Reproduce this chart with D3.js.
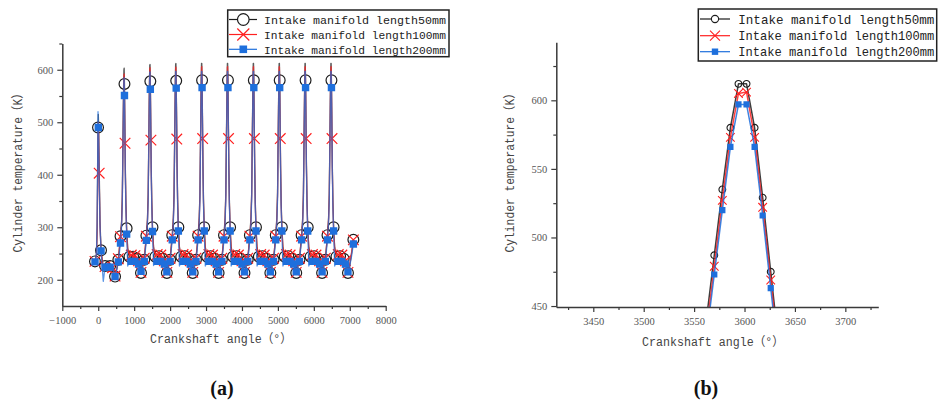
<!DOCTYPE html>
<html><head><meta charset="utf-8">
<script src="https://cdn.jsdelivr.net/npm/d3@7"></script>
<style>body{margin:0;background:#fff}</style>
</head><body><svg id="c" width="941" height="402" xmlns="http://www.w3.org/2000/svg"></svg>
<script>
// ---------------- DATA ----------------
const seriesNames = ["Intake manifold length50mm", "Intake manifold length100mm", "Intake manifold length200mm"];

// crank angle (deg) of each simulation output point
const angles = [
  -90, -50, -30, -14, -6, 2, 10, 18, 26, 34, 50, 78, 140, 190, 260, 330, 400, 468, 520,
  560, 620, 650, 670, 682, 690, 698, 706, 714, 722, 730, 738, 746, 754, 770, 790, 820, 870, 920, 970, 1020, 1070, 1120, 1190, 1240,
  1280, 1340, 1370, 1390, 1402, 1410, 1418, 1426, 1434, 1442, 1450, 1458, 1466, 1474, 1490, 1510, 1540, 1590, 1640, 1690, 1740, 1790, 1840, 1910, 1960,
  2000, 2060, 2090, 2110, 2122, 2130, 2138, 2146, 2154, 2162, 2170, 2178, 2186, 2194, 2210, 2230, 2260, 2310, 2360, 2410, 2460, 2510, 2560, 2630, 2680,
  2720, 2780, 2810, 2830, 2842, 2850, 2858, 2866, 2874, 2882, 2890, 2898, 2906, 2914, 2930, 2950, 2980, 3030, 3080, 3130, 3180, 3230, 3280, 3350, 3400,
  3440, 3500, 3530, 3550, 3562, 3570, 3578, 3586, 3594, 3602, 3610, 3618, 3626, 3634, 3650, 3670, 3700, 3750, 3800, 3850, 3900, 3950, 4000, 4070, 4120,
  4160, 4220, 4250, 4270, 4282, 4290, 4298, 4306, 4314, 4322, 4330, 4338, 4346, 4354, 4370, 4390, 4420, 4470, 4520, 4570, 4620, 4670, 4720, 4790, 4840,
  4880, 4940, 4970, 4990, 5002, 5010, 5018, 5026, 5034, 5042, 5050, 5058, 5066, 5074, 5090, 5110, 5140, 5190, 5240, 5290, 5340, 5390, 5440, 5510, 5560,
  5600, 5660, 5690, 5710, 5722, 5730, 5738, 5746, 5754, 5762, 5770, 5778, 5786, 5794, 5810, 5830, 5860, 5910, 5960, 6010, 6060, 6110, 6160, 6230, 6280,
  6320, 6380, 6410, 6430, 6442, 6450, 6458, 6466, 6474, 6482, 6490, 6498, 6506, 6514, 6530, 6550, 6580, 6630, 6680, 6730, 6780, 6830, 6880, 6950, 7000,
  7050, 7100
];

// cylinder temperature (K), manifold length 50 mm
const temp50 = [
  235, 248, 300, 430, 490, 515, 495, 455, 420, 380, 310, 256, 222, 226, 228, 226, 224, 206, 222,
  238, 283, 312, 360, 430, 478, 525, 568, 600, 603, 573, 522, 468, 415, 348, 298, 260, 244, 242, 244, 242, 240, 233, 213, 228,
  238, 284, 316, 363, 436, 484, 532, 577, 609, 610, 578, 527, 473, 419, 351, 300, 262, 244, 243, 245, 242, 240, 232, 213, 228,
  238, 285, 318, 365, 439, 487, 535, 579, 611, 612, 579, 529, 475, 421, 352, 300, 262, 244, 243, 245, 242, 240, 232, 213, 228,
  238, 285, 318, 365, 439, 487, 535, 580, 612, 612, 580, 529, 475, 421, 352, 300, 262, 244, 243, 245, 242, 240, 232, 213, 228,
  238, 285, 318, 365, 439, 487, 535, 580, 612, 612, 580, 529, 475, 421, 352, 300, 262, 244, 243, 245, 242, 240, 232, 213, 228,
  238, 285, 318, 365, 439, 487, 535, 580, 612, 612, 580, 529, 475, 421, 352, 300, 262, 244, 243, 245, 242, 240, 232, 213, 228,
  238, 285, 318, 365, 439, 487, 535, 580, 612, 612, 580, 529, 475, 421, 352, 300, 262, 244, 243, 245, 242, 240, 232, 213, 228,
  238, 285, 318, 365, 439, 487, 535, 580, 612, 612, 580, 529, 475, 421, 352, 300, 262, 244, 243, 245, 242, 240, 232, 213, 228,
  238, 285, 318, 365, 439, 487, 535, 580, 612, 612, 580, 529, 475, 421, 352, 300, 262, 244, 243, 245, 242, 240, 232, 213, 228,
  250, 276
];

// cylinder temperature (K), manifold length 100 mm
const temp100 = [
  235, 246, 290, 400, 470, 500, 485, 445, 403, 365, 300, 254, 224, 225, 227, 225, 223, 207, 223,
  240, 282, 308, 352, 418, 463, 510, 557, 590, 592, 560, 510, 460, 408, 340, 295, 258, 247, 247, 246, 246, 244, 236, 214, 230,
  241, 283, 313, 358, 428, 476, 524, 570, 602, 604, 571, 519, 466, 413, 345, 297, 260, 247, 248, 246, 247, 244, 236, 214, 230,
  241, 283, 314, 360, 431, 479, 527, 572, 604, 605, 572, 521, 468, 416, 346, 297, 260, 247, 248, 246, 247, 244, 236, 214, 230,
  241, 283, 314, 360, 431, 479, 527, 573, 605, 606, 573, 522, 469, 416, 346, 297, 260, 247, 248, 246, 247, 244, 236, 214, 230,
  241, 283, 314, 360, 431, 479, 527, 573, 605, 606, 573, 522, 469, 416, 346, 297, 260, 247, 248, 246, 247, 244, 236, 214, 230,
  241, 283, 314, 360, 431, 479, 527, 573, 605, 606, 573, 522, 469, 416, 346, 297, 260, 247, 248, 246, 247, 244, 236, 214, 230,
  241, 283, 314, 360, 431, 479, 527, 573, 605, 606, 573, 522, 469, 416, 346, 297, 260, 247, 248, 246, 247, 244, 236, 214, 230,
  241, 283, 314, 360, 431, 479, 527, 573, 605, 606, 573, 522, 469, 416, 346, 297, 260, 247, 248, 246, 247, 244, 236, 214, 230,
  241, 283, 314, 360, 431, 479, 527, 573, 605, 606, 573, 522, 469, 416, 346, 297, 260, 247, 248, 246, 247, 244, 236, 214, 230,
  252, 276
];

// cylinder temperature (K), manifold length 200 mm
const temp200 = [
  234, 250, 310, 450, 520, 490, 470, 430, 395, 360, 300, 255, 197, 224, 224, 224, 224, 206, 220,
  234, 270, 302, 345, 415, 460, 505, 548, 582, 585, 551, 502, 452, 400, 333, 287, 226, 236, 235, 237, 235, 234, 230, 216, 226,
  235, 275, 307, 350, 424, 471, 518, 563, 595, 596, 563, 514, 461, 408, 339, 292, 227, 236, 235, 237, 235, 234, 230, 215, 226,
  235, 276, 308, 352, 426, 473, 520, 565, 597, 597, 565, 516, 463, 410, 340, 293, 226, 236, 235, 237, 235, 234, 230, 215, 226,
  235, 276, 308, 352, 426, 473, 520, 566, 597, 597, 566, 516, 463, 410, 340, 293, 226, 236, 235, 237, 235, 234, 230, 215, 226,
  235, 276, 308, 352, 426, 473, 520, 566, 597, 597, 566, 516, 463, 410, 340, 293, 226, 236, 235, 237, 235, 234, 230, 215, 226,
  235, 276, 308, 352, 426, 473, 520, 566, 597, 597, 566, 516, 463, 410, 340, 293, 226, 236, 235, 237, 235, 234, 230, 215, 226,
  235, 276, 308, 352, 426, 473, 520, 566, 597, 597, 566, 516, 463, 410, 340, 293, 226, 236, 235, 237, 235, 234, 230, 215, 226,
  235, 276, 308, 352, 426, 473, 520, 566, 597, 597, 566, 516, 463, 410, 340, 293, 226, 236, 235, 237, 235, 234, 230, 215, 226,
  235, 276, 308, 352, 426, 473, 520, 566, 597, 597, 566, 516, 463, 410, 340, 293, 226, 236, 235, 237, 235, 234, 230, 215, 226,
  245, 268
];

// angles at which symbols are shown in panel (a) (symbol skipping)
const mark50 = [-90, -6, 78, 190, 330, 468,
  560, 620, 730, 790, 870, 970, 1070, 1190,
  1280, 1340, 1450, 1510, 1590, 1690, 1790, 1910,
  2000, 2060, 2170, 2230, 2310, 2410, 2510, 2630,
  2720, 2780, 2890, 2950, 3030, 3130, 3230, 3350,
  3440, 3500, 3610, 3670, 3750, 3850, 3950, 4070,
  4160, 4220, 4330, 4390, 4470, 4570, 4670, 4790,
  4880, 4940, 5050, 5110, 5190, 5290, 5390, 5510,
  5600, 5660, 5770, 5830, 5910, 6010, 6110, 6230,
  6320, 6380, 6490, 6550, 6630, 6730, 6830, 6950, 7100];
const mark100 = [-90, 26, 190, 400, 468,
  560, 620, 746, 920, 1020, 1120, 1190,
  1280, 1340, 1466, 1640, 1740, 1840, 1910,
  2000, 2060, 2186, 2360, 2460, 2560, 2630,
  2720, 2780, 2906, 3080, 3180, 3280, 3350,
  3440, 3500, 3626, 3800, 3900, 4000, 4070,
  4160, 4220, 4346, 4520, 4620, 4720, 4790,
  4880, 4940, 5066, 5240, 5340, 5440, 5510,
  5600, 5660, 5786, 5960, 6060, 6160, 6230,
  6320, 6380, 6506, 6680, 6780, 6880, 6950, 7100];
const mark200 = [-90, 2, 78, 190, 260, 330, 468,
  560, 620, 730, 790, 920, 1020, 1120, 1190,
  1280, 1340, 1450, 1510, 1640, 1740, 1840, 1910,
  2000, 2060, 2170, 2230, 2360, 2460, 2560, 2630,
  2720, 2780, 2890, 2950, 3080, 3180, 3280, 3350,
  3440, 3500, 3610, 3670, 3800, 3900, 4000, 4070,
  4160, 4220, 4330, 4390, 4520, 4620, 4720, 4790,
  4880, 4940, 5050, 5110, 5240, 5340, 5440, 5510,
  5600, 5660, 5770, 5830, 5960, 6060, 6160, 6230,
  6320, 6380, 6490, 6550, 6680, 6780, 6880, 6950, 7100];

const xTicksA = [-1000, 0, 1000, 2000, 3000, 4000, 5000, 6000, 7000, 8000];
const xMinorA = [-500, 500, 1500, 2500, 3500, 4500, 5500, 6500, 7500];
const yTicksA = [200, 300, 400, 500, 600];
const yMinorA = [250, 350, 450, 550, 650];
const xTicksB = [3450, 3500, 3550, 3600, 3650, 3700];
const xMinorB = [3425, 3475, 3525, 3575, 3625, 3675, 3725];
const yTicksB = [450, 500, 550, 600];
const yMinorB = [475, 525, 575, 625];

const xTitle = "Crankshaft angle（°）";
const yTitle = "Cylinder temperature（K）";
const panelLabels = ["(a)", "(b)"];

// ---------------- DRAW ----------------
const svg = d3.select('#c');
const MONO = '"Liberation Mono","Noto Sans CJK SC",monospace';
const SERIF = '"Liberation Serif","Times New Roman",serif';
const fmt = d => (d < 0 ? '\u2212' + Math.abs(d) : String(d));

const series = [
  {vals: temp50,  marks: mark50,  color: '#1c1c1c', sym: 'circle'},
  {vals: temp100, marks: mark100, color: '#ff2020', sym: 'x'},
  {vals: temp200, marks: mark200, color: '#1e6fdc', sym: 'square'}
];

function symbolPath(sym, s) {
  if (sym === 'circle') return d3.symbol(d3.symbolCircle, Math.PI * s * s)();
  if (sym === 'square') return d3.symbol(d3.symbolSquare, (2 * s) * (2 * s))();
  return `M${-s},${-s}L${s},${s}M${-s},${s}L${s},${-s}`;
}
function styleSymbol(sel, sym, color, sw) {
  if (sym === 'square') sel.attr('fill', color).attr('stroke', 'none');
  else sel.attr('fill', 'none').attr('stroke', color).attr('stroke-width', sw);
}

function panel(o, id) {
  const x = d3.scaleLinear().domain(o.xd).range(o.xr);
  const y = d3.scaleLinear().domain(o.yd).range(o.yr);
  const g = svg.append('g');
  svg.append('clipPath').attr('id', 'clip' + id).append('rect')
    .attr('x', o.xr[0]).attr('y', o.yr[1]).attr('width', o.xr[1] - o.xr[0]).attr('height', o.yr[0] - o.yr[1]);
  const plot = g.append('g').attr('clip-path', `url(#clip${id})`);
  const line = d3.line().x(d => x(d[0])).y(d => y(d[1]));
  series.forEach(s => {
    const pts = angles.map((a, i) => [a, s.vals[i]]);
    plot.append('path').attr('d', line(pts)).attr('fill', 'none')
      .attr('stroke', s.color).attr('stroke-width', o.lw).attr('stroke-opacity', o.lop)
      .attr('stroke-linejoin', 'round');
    const lookup = new Map(pts);
    const mpts = o.allMarks
      ? pts.filter(d => d[0] >= o.xd[0] && d[0] <= o.xd[1])
      : s.marks.map(a => [a, lookup.get(a)]);
    const sz = o.msize[s.sym];
    const sel = plot.selectAll(null).data(mpts).enter().append('path')
      .attr('d', symbolPath(s.sym, sz))
      .attr('transform', d => `translate(${x(d[0])},${y(d[1])})`);
    styleSymbol(sel, s.sym, s.color, o.msw);
  });

  const axColor = '#3a3a3a';
  const styleAxis = (ag) => {
    ag.attr('font-family', SERIF).attr('font-size', 10.5);
    ag.select('.domain').attr('stroke', axColor).attr('stroke-width', 1.5);
    ag.selectAll('.tick line').attr('stroke', axColor).attr('stroke-width', 1.2);
    ag.selectAll('.tick text').attr('fill', '#555').style('font-family', SERIF).style('font-size', '10.5px');
  };
  const xa = g.append('g').attr('transform', `translate(0,${o.yr[0]})`)
    .call(d3.axisBottom(x).tickValues(o.xt).tickFormat(fmt).tickSize(5).tickSizeOuter(0).tickPadding(6));
  styleAxis(xa);
  const xm = g.append('g').attr('transform', `translate(0,${o.yr[0]})`)
    .call(d3.axisBottom(x).tickValues(o.xm).tickSize(3).tickSizeOuter(0).tickFormat(''));
  xm.select('.domain').remove(); styleAxis(xm);
  const ya = g.append('g').attr('transform', `translate(${o.xr[0]},0)`)
    .call(d3.axisLeft(y).tickValues(o.yt).tickFormat(fmt).tickSize(5).tickSizeOuter(0).tickPadding(4));
  styleAxis(ya);
  const ym = g.append('g').attr('transform', `translate(${o.xr[0]},0)`)
    .call(d3.axisLeft(y).tickValues(o.ym).tickSize(3).tickSizeOuter(0).tickFormat(''));
  ym.select('.domain').remove(); styleAxis(ym);

  // titles
  g.append('text').text(xTitle).attr('x', o.xtPos[0]).attr('y', o.xtPos[1])
    .attr('text-anchor', 'middle').attr('textLength', 142).attr('lengthAdjust', 'spacingAndGlyphs')
    .style('font-family', MONO).style('font-size', '12.5px').attr('fill', '#444');
  g.append('text').text(yTitle)
    .attr('transform', `translate(${o.ytPos[0]},${o.ytPos[1]}) rotate(-90)`)
    .attr('text-anchor', 'middle').attr('textLength', 165).attr('lengthAdjust', 'spacingAndGlyphs')
    .style('font-family', MONO).style('font-size', '12.5px').attr('fill', '#444');
  g.append('text').text(o.label).attr('x', o.labPos[0]).attr('y', o.labPos[1])
    .attr('text-anchor', 'middle').style('font-family', SERIF).style('font-weight', 'bold')
    .style('font-size', '20px').attr('fill', '#111');

  // legend
  const L = o.leg;
  g.append('rect').attr('x', L.box[0]).attr('y', L.box[1]).attr('width', L.box[2] - L.box[0])
    .attr('height', L.box[3] - L.box[1]).attr('fill', '#fff').attr('stroke', '#222').attr('stroke-width', 1.5);
  series.forEach((s, i) => {
    const ry = L.rows[i];
    g.append('line').attr('x1', L.lx[0]).attr('x2', L.lx[1]).attr('y1', ry).attr('y2', ry)
      .attr('stroke', s.color).attr('stroke-width', 1.2);
    const m = g.append('path').attr('d', symbolPath(s.sym, L.msize[s.sym]))
      .attr('transform', `translate(${L.mx},${ry})`);
    styleSymbol(m, s.sym, s.color, o.msw);
    if (s.sym === 'circle') m.attr('fill', '#fff');
    g.append('text').text(seriesNames[i]).attr('x', L.tx).attr('y', ry + 4.5)
      .attr('textLength', L.tl).attr('lengthAdjust', 'spacingAndGlyphs')
      .style('font-family', MONO).style('font-size', L.fs + 'px').attr('fill', '#222');
  });
}

panel({
  xd: [-1000, 8000], xr: [62.3, 385.7], yd: [150, 650], yr: [306, 43.5],
  xt: xTicksA, xm: xMinorA, yt: yTicksA, ym: yMinorA,
  lw: 1.3, lop: 0.72, allMarks: false, msw: 1.2,
  msize: {circle: 5.4, square: 3.7, x: 5.3},
  xtPos: [221, 343], ytPos: [22, 170], label: panelLabels[0], labPos: [222, 395],
  leg: {box: [227.7, 10, 449, 56.7], rows: [19.5, 34.5, 49.3], lx: [229, 257], mx: 243.3, tx: 264, tl: 182, fs: 11.2,
        msize: {circle: 5.8, square: 3.8, x: 6}}
}, 'a');

panel({
  xd: [3413.3, 3732.7], xr: [556.3, 878.3], yd: [449.3, 642.3], yr: [307, 42.3],
  xt: xTicksB, xm: xMinorB, yt: yTicksB, ym: yMinorB,
  lw: 1.5, lop: 0.85, allMarks: true, msw: 1.1,
  msize: {circle: 3.4, square: 3.1, x: 4.3},
  xtPos: [713, 345.5], ytPos: [514, 170], label: panelLabels[1], labPos: [706, 395],
  leg: {box: [698.3, 9, 936.7, 61], rows: [19, 35.7, 51.7], lx: [700, 730], mx: 715, tx: 738.3, tl: 196, fs: 12.1,
        msize: {circle: 3.6, square: 3.2, x: 5}}
}, 'b');
</script></body></html>
